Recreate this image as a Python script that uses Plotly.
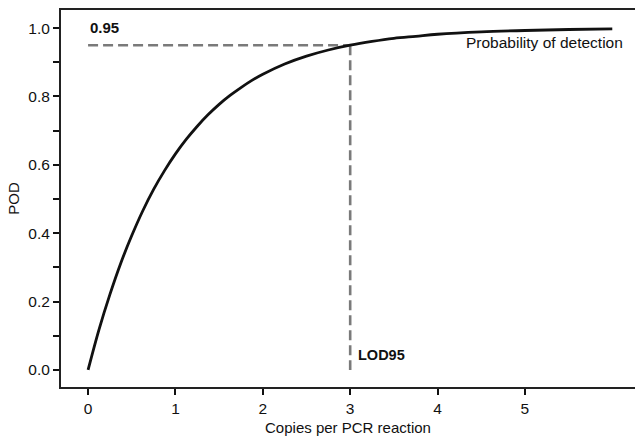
import plotly.graph_objects as go

# Curve
copies = [0, 0.125, 0.25, 0.375, 0.5, 0.625, 0.75, 0.875, 1.0, 1.125, 1.25, 1.375, 1.5, 1.625,
          1.75, 1.875, 2.0, 2.25, 2.5, 2.75, 3.0, 3.25, 3.5, 3.75, 4.0, 4.5, 5.0, 5.5, 6.0]
pod = [0.0, 0.118, 0.221, 0.313, 0.393, 0.465, 0.528, 0.583, 0.632, 0.675, 0.713, 0.747, 0.777, 0.803,
       0.826, 0.847, 0.865, 0.895, 0.918, 0.936, 0.950, 0.961, 0.970, 0.976, 0.982, 0.989, 0.993, 0.996, 0.9975]

lod95_x = 3.0
pod_level = 0.95

x_ticks = [0, 1, 2, 3, 4, 5]
y_ticks = [0.0, 0.1, 0.2, 0.3, 0.4, 0.5, 0.6, 0.7, 0.8, 0.9, 1.0]
y_tick_labels = ["0.0", "", "0.2", "", "0.4", "", "0.6", "", "0.8", "", "1.0"]

font_family = "Liberation Sans, Arial, sans-serif"
gray = "#7a7a7a"

fig = go.Figure()
fig.add_trace(go.Scatter(x=[0, lod95_x], y=[pod_level, pod_level], mode="lines",
                         line=dict(color=gray, width=2.6, dash="10px,5px"), showlegend=False))
fig.add_trace(go.Scatter(x=[lod95_x, lod95_x], y=[pod_level, 0], mode="lines",
                         line=dict(color=gray, width=2.6, dash="10px,5px"), showlegend=False))
fig.add_trace(go.Scatter(x=copies, y=pod, mode="lines", line=dict(color="#111111", width=2.8, shape="spline"),
                         showlegend=False))

fig.add_annotation(x=0, y=0.972, text="<b>0.95</b>", showarrow=False, xanchor="left", yanchor="bottom",
                   font=dict(size=15, color="#111111", family=font_family))
fig.add_annotation(x=3.07, y=0.045, text="<b>LOD95</b>", showarrow=False, xanchor="left", yanchor="middle",
                   font=dict(size=14.5, color="#111111", family=font_family))
fig.add_annotation(x=6.15, y=0.958, text="Probability of detection", showarrow=False, xanchor="right",
                   yanchor="middle", font=dict(size=15.5, color="#111111", family=font_family))

fig.update_layout(
    width=635, height=436,
    margin=dict(l=61, r=0, t=10, b=49),
    paper_bgcolor="white", plot_bgcolor="white",
    font=dict(family=font_family, size=15, color="#111111"),
    xaxis=dict(range=[-0.31, 6.26], tickvals=x_ticks, ticks="outside", ticklen=6, tickwidth=1.5,
               tickcolor="#111111", showline=True, linecolor="#222222", linewidth=2, mirror=True,
               showgrid=False, zeroline=False,
               title=dict(text="Copies per PCR reaction", standoff=7, font=dict(size=15)),
               tickfont=dict(size=15.5)),
    yaxis=dict(range=[-0.05, 1.053], tickvals=y_ticks, ticktext=y_tick_labels, ticks="outside", ticklen=6,
               tickwidth=1.5, tickcolor="#111111", showline=True, linecolor="#222222", linewidth=2,
               showgrid=False, zeroline=False, title=dict(text="POD", standoff=5, font=dict(size=15)),
               tickfont=dict(size=15.5)),
)

fig.write_html("out.html", config={"displayModeBar": False},
               post_script="document.body.style.margin='0';document.body.style.overflow='hidden';")
